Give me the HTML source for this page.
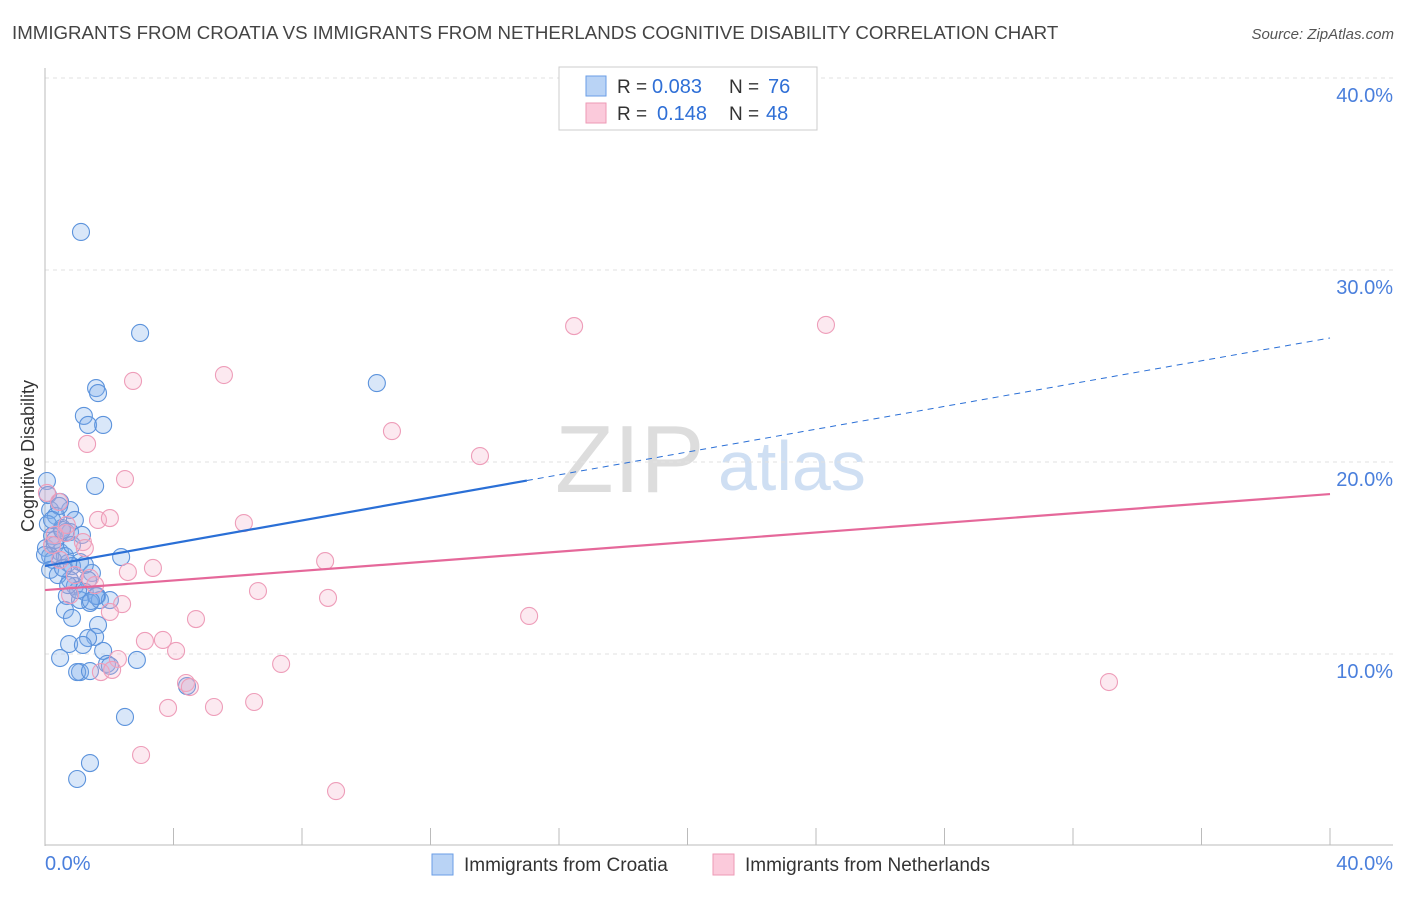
<!DOCTYPE html>
<html><head><meta charset="utf-8"><style>
body{margin:0;background:#fff;font-family:"Liberation Sans",sans-serif;}
svg text{font-family:"Liberation Sans",sans-serif;}
</style></head><body>
<svg id="c" width="1406" height="892" xmlns="http://www.w3.org/2000/svg">
<text x="12" y="39" font-size="18.7" fill="#444">IMMIGRANTS FROM CROATIA VS IMMIGRANTS FROM NETHERLANDS COGNITIVE DISABILITY CORRELATION CHART</text>
<text x="1394" y="39" font-size="15" fill="#555" font-style="italic" text-anchor="end">Source: ZipAtlas.com</text>
<text x="555" y="492" font-size="96" fill="#ddd" font-family="Liberation Serif">ZIP</text>
<text x="718" y="490" font-size="70" fill="#cfdff3">atlas</text>
<text transform="translate(34,456) rotate(-90)" font-size="18" fill="#333" text-anchor="middle">Cognitive Disability</text>
<g id="grid"></g><g id="pts"></g><g id="lines"></g>
<g>
<rect x="559" y="67" width="258" height="63" fill="#fff" stroke="#ccc"/>
<rect x="586" y="76" width="20" height="20" fill="#b9d3f5" stroke="#6a9ee6"/>
<rect x="586" y="103" width="20" height="20" fill="#fbcadb" stroke="#ee9ab6"/>
<text x="617" y="93" font-size="19" fill="#333">R =</text>
<text x="652" y="93" font-size="20" fill="#2f6fd6">0.083</text>
<text x="729" y="93" font-size="19" fill="#333">N =</text>
<text x="768" y="93" font-size="20" fill="#2f6fd6">76</text>
<text x="617" y="120" font-size="19" fill="#333">R =</text>
<text x="657" y="120" font-size="20" fill="#2f6fd6">0.148</text>
<text x="729" y="120" font-size="19" fill="#333">N =</text>
<text x="766" y="120" font-size="20" fill="#2f6fd6">48</text>
</g>
<g>
<rect x="432" y="854" width="21" height="21" fill="#b9d3f5" stroke="#6a9ee6"/>
<text x="464" y="871" font-size="19" fill="#333">Immigrants from Croatia</text>
<rect x="713" y="854" width="21" height="21" fill="#fbcadb" stroke="#ee9ab6"/>
<text x="745" y="871" font-size="19" fill="#333">Immigrants from Netherlands</text>
</g>
</svg>
<script>
const yTicks=[10,20,30,40];
const xTickLabels=["0.0%","40.0%"];
const blueX=[1.12,2.96,10.33,1.59,1.65,1.21,1.34,1.81,0.06,1.56,0.47,0.16,0.78,0.34,0.93,0.09,0.53,0.65,0.22,0.78,0.03,0.31,0.47,0.16,0.62,1.09,0.72,0.25,2.37,0.84,1.46,1.34,0.78,0.93,0.68,1.24,1.62,1.40,1.09,0.62,0.84,1.65,1.56,1.34,0.75,1.18,1.81,0.47,1.93,2.86,1.09,1.0,1.40,2.02,4.42,2.49,1.40,1.0,0.31,0,0.16,0.40,0.53,0.84,0.09,0.44,1.15,1.03,1.71,0.56,2.02,1.59,0.72,1.43,1.24,0.22];
const blueY=[31.98,26.72,24.11,23.85,23.59,22.40,21.93,21.93,19.01,18.75,17.92,17.5,17.5,17.19,16.98,16.77,16.56,16.35,16.15,16.35,15.52,15.68,15.31,15.10,15.10,14.79,14.74,14.90,15.05,14.58,14.22,13.85,13.85,13.54,13.02,13.23,13.02,12.66,12.81,12.29,11.88,11.51,10.89,10.83,10.52,10.47,10.16,9.79,9.48,9.69,9.06,9.06,9.11,9.38,8.33,6.72,4.32,3.49,15.94,15.16,14.38,14.11,16.46,15.68,18.28,17.71,16.2,13.33,12.81,14.48,12.81,13.02,13.59,12.76,14.64,16.98];
const pinkX=[16.47,24.31,2.74,5.57,10.80,13.54,1.31,2.49,0.06,0.44,1.65,2.02,6.19,0.65,1.18,0.31,8.72,3.36,2.58,1.40,6.63,8.81,2.40,2.02,4.70,15.07,3.11,3.67,4.08,2.27,7.35,1.74,4.39,4.51,3.83,5.26,6.51,2.99,9.06,33.12,0.47,0.93,1.24,1.56,0.78,0.22,0.68,2.09];
const pinkY=[27.08,27.14,24.22,24.53,21.61,20.31,20.94,19.11,18.39,17.92,16.98,17.08,16.82,16.30,15.83,16.2,14.84,14.48,14.27,13.96,13.28,12.92,12.60,12.19,11.82,11.98,10.68,10.73,10.16,9.74,9.48,9.06,8.49,8.28,7.19,7.24,7.5,4.74,2.86,8.54,14.90,14.11,15.52,13.59,13.07,15.68,16.72,9.17];
const blueTrend=[14.58,26.46], blueSolidEnd=15.0;
const pinkTrend=[13.33,18.33];
const NS="http://www.w3.org/2000/svg";
const X=v=>45+v/40*1285, Y=v=>846-v*19.2;
function mk(t,a,p){const e=document.createElementNS(NS,t);for(const k in a)e.setAttribute(k,a[k]);p.appendChild(e);return e;}
const grid=document.getElementById('grid');
yTicks.forEach(t=>{
 const l=mk('line',{x1:45,x2:1393,y1:Y(t),y2:Y(t),stroke:'#e2e2e2','stroke-dasharray':'4,4'},grid);
 
 
 const tx=mk('text',{x:1393,y:Y(t)+24,'font-size':20,fill:'#4a7fdc','text-anchor':'end'},grid);tx.textContent=t.toFixed(1)+'%';
 
 
});
mk('line',{x1:45,x2:45,y1:68,y2:846,stroke:'#bbb'},grid);
mk('line',{x1:45,x2:1393,y1:845,y2:845,stroke:'#bbb'},grid);
for(let i=0;i<=10;i++){mk('line',{x1:X(i*4),x2:X(i*4),y1:828,y2:845,stroke:'#bbb'},grid);}
const xl=mk('text',{x:45,y:870,'font-size':20,fill:'#4a7fdc'},grid);xl.textContent=xTickLabels[0];


const xr=mk('text',{x:1393,y:870,'font-size':20,fill:'#4a7fdc','text-anchor':'end'},grid);xr.textContent=xTickLabels[1];


const pts=document.getElementById('pts');
blueX.forEach((v,i)=>{const c=mk('circle',{cx:X(v),cy:Y(blueY[i]),r:8.5,fill:'rgba(130,175,235,0.3)',stroke:'#5c93dc','stroke-width':1.1},pts);
 
 });
pinkX.forEach((v,i)=>{const c=mk('circle',{cx:X(v),cy:Y(pinkY[i]),r:8.5,fill:'rgba(245,175,200,0.28)',stroke:'#ee9db9','stroke-width':1.1},pts);
 
 });
const L=document.getElementById('lines');
const by=x=>blueTrend[0]+(blueTrend[1]-blueTrend[0])*x/40;
const b1=mk('line',{x1:X(0),y1:Y(by(0)),x2:X(blueSolidEnd),y2:Y(by(blueSolidEnd)),stroke:'#2a6fd6','stroke-width':2.2},L);


const b2=mk('line',{x1:X(blueSolidEnd),y1:Y(by(blueSolidEnd)),x2:X(40),y2:Y(by(40)),stroke:'#2a6fd6','stroke-width':1,'stroke-dasharray':'6,5'},L);


const p1=mk('line',{x1:X(0),y1:Y(pinkTrend[0]),x2:X(40),y2:Y(pinkTrend[1]),stroke:'#e5689a','stroke-width':2.2},L);


</script>
</body></html>
